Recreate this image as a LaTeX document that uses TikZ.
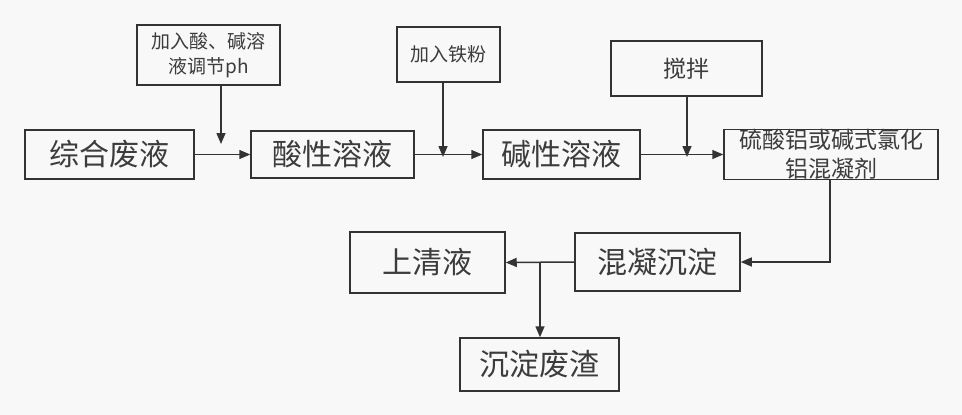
\documentclass[tikz,border=0pt]{standalone}
\usepackage{fontspec}
\newfontfamily\cjk{Noto Sans CJK SC}
\usetikzlibrary{arrows.meta}
\definecolor{bg}{RGB}{248,248,248}
\definecolor{ink}{RGB}{51,51,51}
\definecolor{txt}{RGB}{60,60,60}
\tikzset{
  box/.style={draw=ink, line width=1.5pt, fill=bg, inner sep=0pt, text=txt, align=center},
  big/.style={box, font=\cjk\fontsize{30}{34}\selectfont},
  small/.style={box, font=\cjk\fontsize{19}{25}\selectfont},
  mid/.style={box, font=\cjk\fontsize{23}{29}\selectfont},
  conn/.style={draw=ink, line width=1.5pt},
  arr/.style={conn, -{Triangle[length=11pt,width=9pt]}}
}
\begin{document}
\begin{tikzpicture}[x=1pt,y=-1pt]
\fill[bg] (0,0) rectangle (962,415);
\useasboundingbox (0,0) rectangle (962,415);
% main row
\node[big, minimum width=169pt, minimum height=49pt] (zh) at (109.5,154.5) {综合废液};
\node[big, minimum width=163pt, minimum height=47pt] (sx) at (332.5,154.5) {酸性溶液};
\node[big, minimum width=157pt, minimum height=49pt] (jx) at (561.5,154.5) {碱性溶液};
\node[mid, minimum width=214pt, minimum height=49pt] (hn) at (831,154.5) {硫酸铝或碱式氯化\\铝混凝剂};
% top boxes
\node[small, minimum width=143pt, minimum height=60pt] (tj) at (208.5,55) {加入酸、碱溶\\液调节ph};
\node[small, minimum width=103pt, minimum height=55pt] (tf) at (448.5,54.5) {加入铁粉};
\node[mid, minimum width=151pt, minimum height=55pt] (jb) at (686.5,68.5) {搅拌};
% lower boxes
\node[big, minimum width=165pt, minimum height=58pt] (hc) at (657.5,262) {混凝沉淀};
\node[big, minimum width=155pt, minimum height=61pt] (sq) at (427.5,262.5) {上清液};
\node[big, minimum width=159pt, minimum height=53pt] (cf) at (539.5,364.5) {沉淀废渣};
% junction coordinates
\coordinate (m1) at (221,144);
\coordinate (m2) at (443,157);
\coordinate (m3) at (687,157);
\coordinate (c1) at (830,262);
\coordinate (b1) at (540,262);
% connectors
\draw[arr] (zh.east) -- (sx.west);
\draw[arr] (sx.east) -- (jx.west);
\draw[arr] (jx.east) -- (hn.west);
\draw[arr] (m1 |- tj.south) -- (m1);
\draw[arr] (m2 |- tf.south) -- (m2);
\draw[arr] (m3 |- jb.south) -- (m3);
\draw[arr] (c1 |- hn.south) -- (c1) -- (hc.east);
\draw[arr] (hc.west) -- (sq.east);
\draw[arr] (b1) -- (cf.north -| b1);
\end{tikzpicture}
\end{document}
